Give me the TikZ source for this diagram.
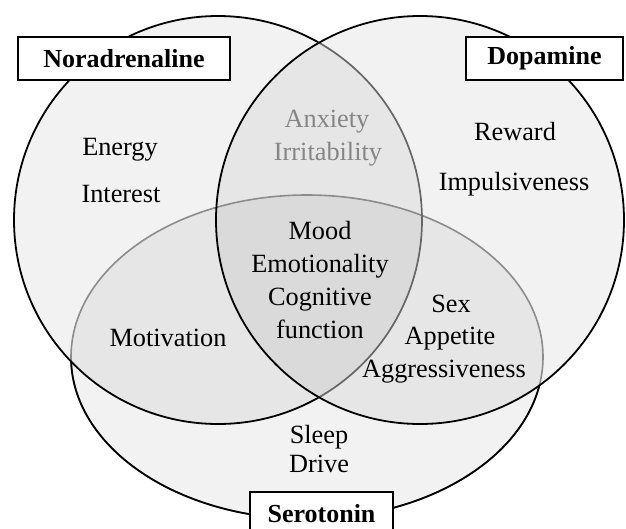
\documentclass[tikz,border=0pt]{standalone}
\usepackage{fontspec}
\setmainfont{Liberation Serif}
\begin{document}
\begin{tikzpicture}[x=1pt,y=-1pt,
  lbl/.style={anchor=base, inner sep=0pt, font=\fontsize{26.3}{30}\selectfont},
  faded/.style={lbl, text=black!48},
  titlebox/.style={draw=black, line width=1.8pt, fill=white, inner sep=0pt,
    minimum height=43pt, font=\fontsize{26}{30}\selectfont\bfseries},
  shade/.style={fill=black, fill opacity=0.05},
  edge/.style={line width=1.8pt, draw=black},
  softedge/.style={line width=1.6pt, draw=black!45},
  midedge/.style={line width=1.7pt, draw=black!60}]
\useasboundingbox (0,0) rectangle (626,528);
\coordinate (cL) at (218,220);
\coordinate (cR) at (420,220);
\coordinate (cS) at (307,357);
% fills
\fill[shade] (cS) ellipse [x radius=236pt, y radius=162pt];
\fill[shade] (cL) circle [radius=204pt];
\fill[shade] (cR) circle [radius=204pt];
% serotonin outline: grey inside the circles, black outside
\draw[softedge] (cS) ellipse [x radius=236pt, y radius=162pt];
\begin{scope}[even odd rule]
  \clip (-20,-20) rectangle (650,560) (cL) circle [radius=204pt];
  \clip (-20,-20) rectangle (650,560) (cR) circle [radius=204pt];
  \draw[edge] (cS) ellipse [x radius=236pt, y radius=162pt];
\end{scope}
% noradrenaline outline: black outside dopamine circle, grey inside
\begin{scope}[even odd rule]
  \clip (-20,-20) rectangle (650,560) (cR) circle [radius=204pt];
  \draw[edge] (cL) circle [radius=204pt];
\end{scope}
\begin{scope}
  \clip (cR) circle [radius=204pt];
  \draw[midedge] (cL) circle [radius=204pt];
\end{scope}
% dopamine outline
\draw[edge] (cR) circle [radius=204pt];
% labels
\node[lbl] (energy) at (120,155) {Energy};
\node[lbl] (interest) at (121,202) {Interest};
\node[faded] (anxiety) at (327,127) {Anxiety};
\node[faded] (irrit) at (328,160) {Irritability};
\node[lbl] (reward) at (515,140) {Reward};
\node[lbl] (impuls) at (514,190) {Impulsiveness};
\node[lbl] (mood) at (320,239) {Mood};
\node[lbl] (emot) at (320,272) {Emotionality};
\node[lbl] (cogn) at (320,305) {Cognitive};
\node[lbl] (func) at (320,338) {function};
\node[lbl] (motiv) at (168,346) {Motivation};
\node[lbl] (sex) at (451,312) {Sex};
\node[lbl] (appet) at (450,344) {Appetite};
\node[lbl] (aggr) at (444,377) {Aggressiveness};
\node[lbl] (sleep) at (319,443) {Sleep};
\node[lbl] (drive) at (319,472) {Drive};
% title boxes
\node[titlebox, minimum width=212pt] (nor) at (124,58.5) {Noradrenaline};
\node[titlebox, minimum width=157pt] (dop) at (544.5,58.5) {Dopamine};
\node[titlebox, minimum width=143pt] (ser) at (321.5,513.5) {Serotonin};
\end{tikzpicture}
\end{document}
